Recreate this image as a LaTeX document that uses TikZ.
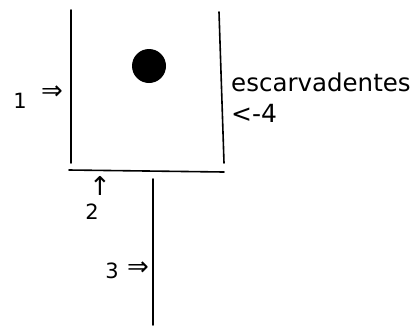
\documentclass[tikz,border=0pt]{standalone}
\usepackage{fontspec}
\setmainfont{DejaVu Sans}
\begin{document}
\begin{tikzpicture}[x=1pt,y=-1pt,
  stroke/.style={line width=1.6pt,line cap=round},
  lbl/.style={inner sep=0pt,font=\fontsize{21}{21}\selectfont},
  arr/.style={inner sep=0pt,font=\fontsize{26}{26}\selectfont},
  word/.style={inner sep=0pt,font=\fontsize{24.5}{24.5}\selectfont}]
\useasboundingbox (0,0) rectangle (414,327);
\coordinate (ltop) at (71,10);
\coordinate (lbot) at (71,163);
\coordinate (rtop) at (219,12);
\coordinate (rbot) at (224,163);
\coordinate (bl) at (69,170);
\coordinate (br) at (224,172);
\coordinate (stop) at (153,179);
\coordinate (sbot) at (153,325);
\draw[stroke] (ltop) -- (lbot);
\draw[stroke] (rtop) -- (rbot);
\draw[stroke] (bl) -- (br);
\draw[stroke] (stop) -- (sbot);
\fill (149,66) circle (17);
\node[lbl] (n1) at (20,101) {1};
\node[arr] (a1) at (52,93) {⇒};
\node[word,anchor=west] (esc) at (231,82) {escarvadentes};
\node[inner sep=0pt,font=\fontsize{25}{25}\selectfont,anchor=west] (n4) at (231,113) {<-4};
\node[arr] (a2) at (100,186) {↑};
\node[lbl] (n2) at (92,212) {2};
\node[lbl] (n3) at (112,271) {3};
\node[arr] (a3) at (138,269) {⇒};
\end{tikzpicture}
\end{document}
